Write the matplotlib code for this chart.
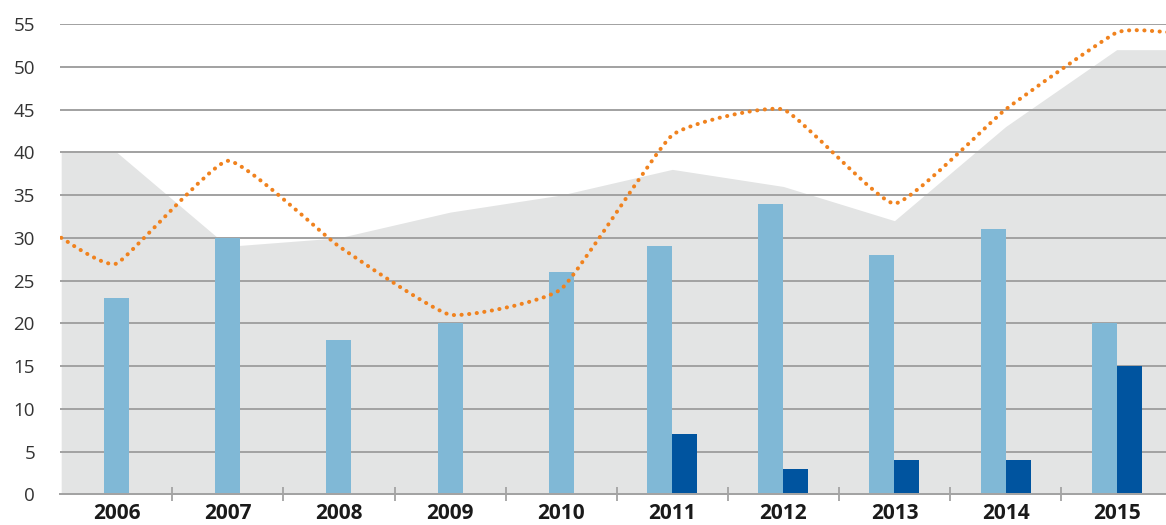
import matplotlib
matplotlib.use("Agg")
import matplotlib.pyplot as plt
from matplotlib.path import Path
from matplotlib.patches import PathPatch
import numpy as np

# ---- data -------------------------------------------------------------
years = ["2006", "2007", "2008", "2009", "2010",
         "2011", "2012", "2013", "2014", "2015"]
bars_light = [23, 30, 18, 20, 26, 29, 34, 28, 31, 20]
bars_dark = [0, 0, 0, 0, 0, 7, 3, 4, 4, 15]
area_values = [40, 29, 30, 33, 35, 38, 36, 32, 43, 52]
line_values = [27, 39, 29, 21, 24, 42, 45, 34, 45, 54]
# values at the outer category boundaries (left edge, right edge)
area_edges = [40, 52]
line_edges = [30, 54]
y_ticks = [0, 5, 10, 15, 20, 25, 30, 35, 40, 45, 50, 55]

# ---- style ------------------------------------------------------------
C_LIGHT = "#80b8d6"
C_DARK = "#00549f"
C_AREA = "#e3e4e4"
C_LINE = "#f0821e"
C_GRID = "#a3a3a3"

W, H, DPI = 1166, 525, 100
UNIT = 111.1  # pixels per category
fig = plt.figure(figsize=(W / DPI, H / DPI), dpi=DPI)
ax = fig.add_axes([60 / W, (H - 494.3) / H, (W - 60) / W, 470.3 / H])

n = len(years)
x = np.arange(n)
xb = np.concatenate([[-0.5], x, [n - 0.5]])

# grey background area
area_y = np.concatenate([[area_edges[0]], area_values, [area_edges[1]]])
ax.fill_between(xb, 0, area_y, color=C_AREA, lw=0, zorder=1)

# horizontal gridlines
for t in y_ticks[1:]:
    ax.axhline(t, color=C_GRID, lw=1.44, zorder=1.5)

# bars: a single bar is centred on its year, a pair sits side by side
bw = 0.225
light = np.array(bars_light)
dark = np.array(bars_dark)
has_pair = dark > 0
x_light = np.where(has_pair, x - bw / 2, x)
ax.bar(x_light, light, width=bw, color=C_LIGHT, zorder=2, linewidth=0)
ax.bar((x + bw / 2)[has_pair], dark[has_pair], width=bw, color=C_DARK,
       zorder=2, linewidth=0)

# dotted line with slightly rounded corners (cubic Bezier segments)
pts = np.column_stack([xb, np.concatenate([[line_edges[0]], line_values,
                                            [line_edges[1]]])])
tension = 0.07
verts = [pts[0]]
codes = [Path.MOVETO]
m = len(pts)
for i in range(m - 1):
    p0 = pts[i - 1] if i > 0 else pts[i]
    p1 = pts[i]
    p2 = pts[i + 1]
    p3 = pts[i + 2] if i + 2 < m else pts[i + 1]
    c1 = p1 + (p2 - p0) * tension
    c2 = p2 - (p3 - p1) * tension
    verts += [c1, c2, p2]
    codes += [Path.CURVE4] * 3
patch = PathPatch(Path(verts, codes), fill=False, edgecolor=C_LINE,
                  lw=2.9, linestyle=(0, (0.05, 1.85)), zorder=3)
patch.set_capstyle("round")
ax.add_patch(patch)

# ---- axes -------------------------------------------------------------
x0 = -0.5 - 1.2 / UNIT
ax.set_xlim(x0, x0 + (W - 60) / UNIT)
ax.set_ylim(0, 55)
for s in ["left", "top", "right"]:
    ax.spines[s].set_visible(False)
ax.spines["bottom"].set_color(C_GRID)
ax.spines["bottom"].set_linewidth(1.44)
ax.spines["bottom"].set_zorder(4)

ax.set_xticks(x)
ax.set_xticklabels(years, fontfamily="Open Sans", fontweight="bold",
                   fontsize=15, color="#1a1a1a")
ax.set_xticks(x[:-1] + 0.5, minor=True)
ax.tick_params(axis="x", which="major", length=0, pad=6)
ax.tick_params(axis="x", which="minor", direction="inout", length=9.4,
               width=1.3, color=C_GRID)

ax.set_yticks(y_ticks)
ax.set_yticklabels([str(t) for t in y_ticks], fontfamily="Open Sans",
                   fontsize=13.5, color="#333333")
ax.tick_params(axis="y", length=0, pad=18)

fig.savefig("out.png", dpi=DPI)
